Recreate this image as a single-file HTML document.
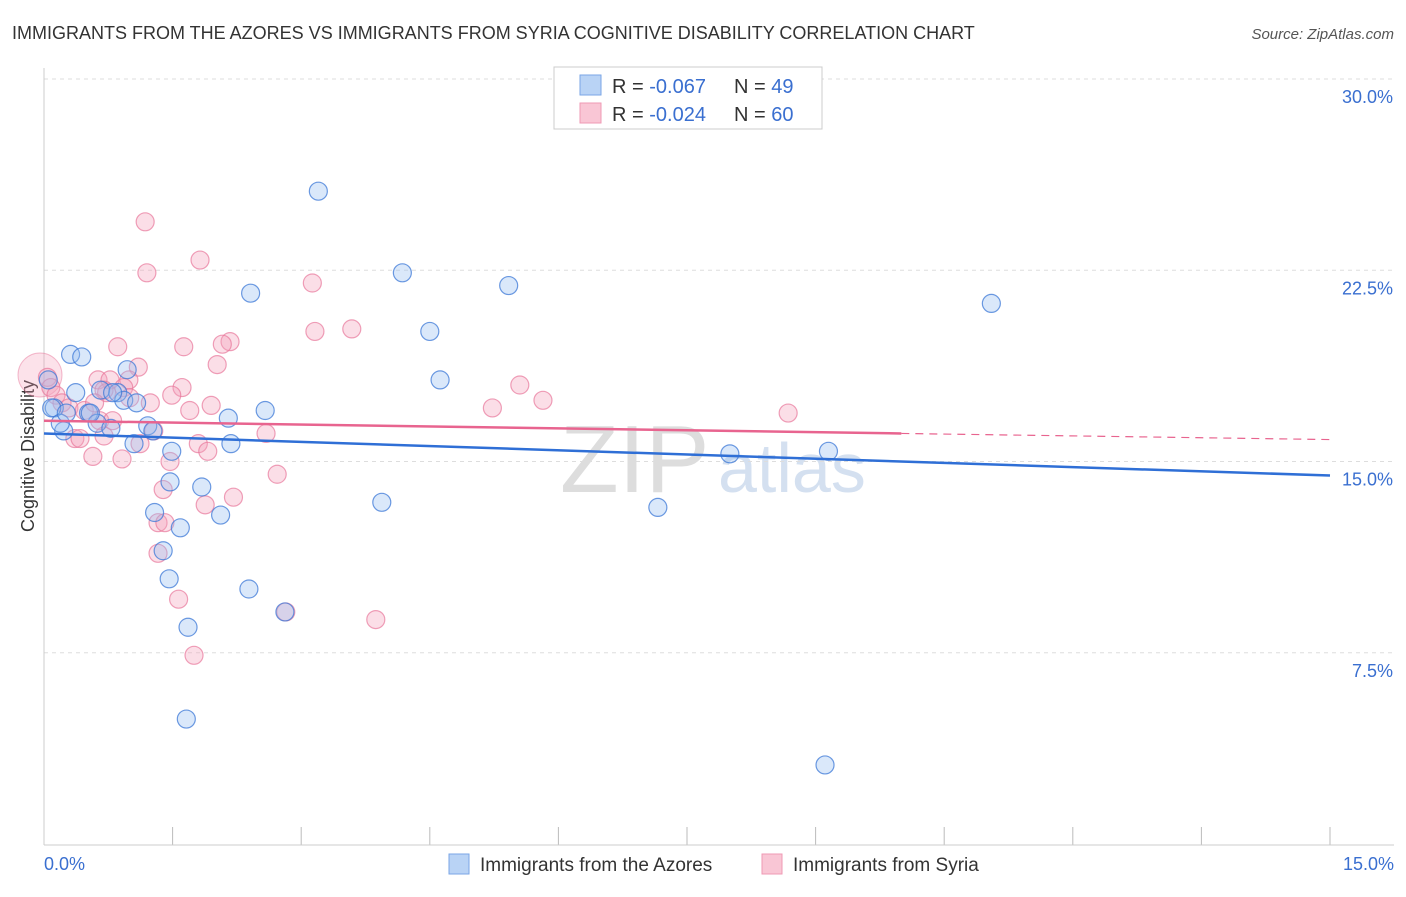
<!DOCTYPE html>
<html><head><meta charset="utf-8"><style>
body{margin:0;background:#fff;font-family:"Liberation Sans",sans-serif}
svg text{font-family:"Liberation Sans",sans-serif}
</style></head><body>
<svg width="1406" height="892">
<text x="12" y="39" font-size="18" fill="#333">IMMIGRANTS FROM THE AZORES VS IMMIGRANTS FROM SYRIA COGNITIVE DISABILITY CORRELATION CHART</text>
<text x="1394" y="39" font-size="15" fill="#555" font-style="italic" text-anchor="end">Source: ZipAtlas.com</text>
<text x="560" y="492" font-size="96" fill="#ddd" font-family="Liberation Serif">ZIP</text>
<text x="718" y="492" font-size="70" fill="#d4e0f0">atlas</text>
<g id="grid"></g>
<line x1="44" y1="68" x2="44" y2="845" stroke="#ccc"/>
<line x1="44" y1="845" x2="1394" y2="845" stroke="#ccc"/>
<text x="34" y="456" font-size="18" fill="#333" text-anchor="middle" transform="rotate(-90 34 456)">Cognitive Disability</text>
<text x="44" y="870" font-size="18" fill="#3a6fd0">0.0%</text>
<text x="1394" y="870" font-size="18" fill="#3a6fd0" text-anchor="end">15.0%</text>
<g id="pts"></g>
<g id="trend"></g>
<g>
<rect x="554" y="67" width="268" height="62" fill="#fff" stroke="#ccc"/>
<rect x="580" y="75" width="21" height="20" fill="#b9d3f5" stroke="#7aa6e6"/>
<rect x="580" y="103" width="21" height="20" fill="#f9c6d5" stroke="#ef99b4"/>
<text x="612" y="93" font-size="20" fill="#333">R = <tspan fill="#3a6fd0">-0.067</tspan><tspan x="734">N = </tspan><tspan fill="#3a6fd0">49</tspan></text>
<text x="612" y="121" font-size="20" fill="#333">R = <tspan fill="#3a6fd0">-0.024</tspan><tspan x="734">N = </tspan><tspan fill="#3a6fd0">60</tspan></text>
</g>
<g>
<rect x="449" y="854" width="20" height="20" fill="#b9d3f5" stroke="#7aa6e6"/>
<text x="480" y="871" font-size="19" fill="#333">Immigrants from the Azores</text>
<rect x="762" y="854" width="20" height="20" fill="#f9c6d5" stroke="#ef99b4"/>
<text x="793" y="871" font-size="19" fill="#333">Immigrants from Syria</text>
</g>
</svg>
<script>
const yTicks=[7.5,15,22.5,30];
const xTicks=[0,1.5,3,4.5,6,7.5,9,10.5,12,13.5,15];
const azX=[3.2,4.18,5.42,11.05,2.41,4.5,0.31,0.44,4.62,0.97,0.37,0.66,0.86,0.12,0.93,1.08,0.52,0.62,0.78,0.23,1.21,1.27,1.05,2.15,2.58,2.18,1.49,8.0,9.15,1.47,1.84,3.94,7.16,1.29,2.06,1.59,1.39,1.46,2.39,2.81,1.68,1.66,9.11,0.05,0.09,0.19,0.26,0.54,0.8];
const azY=[25.6,22.4,21.9,21.2,21.6,20.1,19.2,19.1,18.2,18.6,17.7,17.8,17.7,17.1,17.4,17.3,16.9,16.5,16.3,16.2,16.4,16.2,15.7,16.7,17.0,15.7,15.4,15.3,15.4,14.2,14.0,13.4,13.2,13.0,12.9,12.4,11.5,10.4,10.0,9.1,8.5,4.9,3.1,18.2,17.1,16.5,16.9,16.9,17.7];
const syX=[1.18,1.82,1.2,3.13,3.59,3.16,2.17,2.08,1.63,0.86,2.02,1.1,5.55,5.82,5.23,8.68,0.99,0.63,0.77,0.93,1.61,1.49,1.0,0.73,0.04,0.08,0.14,0.21,0.29,0.47,1.7,1.95,0.65,0.8,1.28,2.59,0.36,0.42,0.7,1.12,1.8,1.91,0.57,0.91,1.47,2.72,1.39,2.21,1.88,1.33,1.41,1.33,1.57,2.82,3.87,1.75,0.7,0.59,1.24];
const syY=[24.4,22.9,22.4,22.0,20.2,20.1,19.7,19.6,19.5,19.5,18.8,18.7,18.0,17.4,17.1,16.9,18.2,18.2,18.2,17.9,17.9,17.6,17.5,17.7,18.3,17.9,17.6,17.3,17.1,17.0,17.0,17.2,16.6,16.6,16.2,16.1,15.9,15.9,16.0,15.7,15.7,15.4,15.2,15.1,15.0,14.5,13.9,13.6,13.3,12.6,12.6,11.4,9.6,9.1,8.8,7.4,17.8,17.3,17.3];
const azTrend=[16.1,14.45];
const syTrend=[16.6,16.1,15.86];
const X=v=>44+v*(1286/15), Y=v=>844-v*25.5;
const NS='http://www.w3.org/2000/svg';
function mk(t,a,p){const e=document.createElementNS(NS,t);for(const k in a)e.setAttribute(k,a[k]);p.appendChild(e);return e;}
const grid=document.getElementById('grid');
yTicks.forEach(t=>{
const l=mk('line',{x1:44,x2:1394,y1:Y(t),y2:Y(t),stroke:'#ddd','stroke-dasharray':'4,4'},grid);


const tx=mk('text',{x:1393,y:Y(t)+24,'font-size':18,fill:'#3a6fd0','text-anchor':'end'},grid);
tx.textContent=t.toFixed(1)+'%';


});
xTicks.forEach(t=>{
const l=mk('line',{x1:X(t),x2:X(t),y1:827,y2:845,stroke:'#bbb'},grid);


});
const pts=document.getElementById('pts');
let c=mk('circle',{cx:40,cy:375,r:22,fill:'rgba(244,160,185,0.3)',stroke:'rgba(232,120,155,0.5)'},pts);


syX.forEach((x,i)=>{
const e=mk('circle',{cx:X(x),cy:Y(syY[i]),r:9,fill:'rgba(244,160,185,0.35)',stroke:'rgba(232,120,155,0.7)','stroke-width':1.2},pts);


});
azX.forEach((x,i)=>{
const e=mk('circle',{cx:X(x),cy:Y(azY[i]),r:9,fill:'rgba(150,190,240,0.35)',stroke:'rgba(60,120,215,0.75)','stroke-width':1.2},pts);


});
const tr=document.getElementById('trend');
let a=mk('line',{x1:X(0),y1:Y(azTrend[0]),x2:X(15),y2:Y(azTrend[1]),stroke:'#2f6fd6','stroke-width':2.5},tr);


let b=mk('line',{x1:X(0),y1:Y(syTrend[0]),x2:X(10),y2:Y(syTrend[1]),stroke:'#e8648f','stroke-width':2.5},tr);


let d=mk('line',{x1:X(10),y1:Y(syTrend[1]),x2:X(15),y2:Y(syTrend[2]),stroke:'#e8648f','stroke-width':1.2,'stroke-dasharray':'8,6'},tr);


</script>
</body></html>
